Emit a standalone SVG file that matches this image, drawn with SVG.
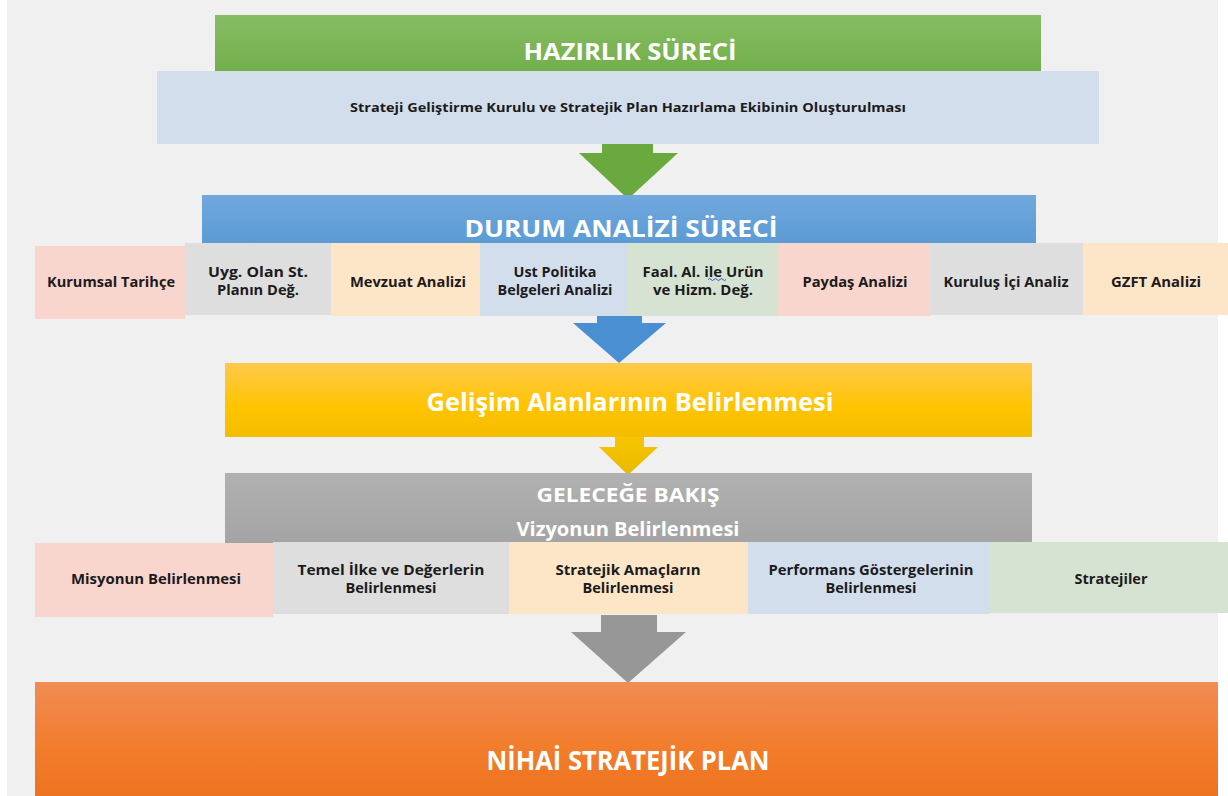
<svg xmlns="http://www.w3.org/2000/svg" width="1228" height="796" viewBox="0 0 1228 796">
<defs>
<style>
.hdr{font-family:'Open Sans','Noto Sans','Liberation Sans',sans-serif;font-weight:bold;fill:#ffffff;text-anchor:middle}
.lbl{font-family:'Open Sans','Noto Sans','Liberation Sans',sans-serif;font-weight:bold;fill:#1b1b1b;text-anchor:middle;font-size:13.5px}
.pink{fill:#f8d5cd}.grey{fill:#dedede}.peach{fill:#fde6c8}.lblue{fill:#d3deed}.lgreen{fill:#d6e3d3}
</style>
<linearGradient id="gGreen" x1="0" y1="0" x2="0" y2="1"><stop offset="0" stop-color="#86bd63"/><stop offset="1" stop-color="#73af4c"/></linearGradient>
<linearGradient id="gBlue" x1="0" y1="0" x2="0" y2="1"><stop offset="0" stop-color="#71a8dd"/><stop offset="1" stop-color="#5b9bd5"/></linearGradient>
<linearGradient id="gYellow" x1="0" y1="0" x2="0" y2="1"><stop offset="0" stop-color="#ffc94c"/><stop offset="0.6" stop-color="#ffc400"/><stop offset="1" stop-color="#f3bd00"/></linearGradient>
<linearGradient id="gGrey" x1="0" y1="0" x2="0" y2="1"><stop offset="0" stop-color="#b1b1b1"/><stop offset="1" stop-color="#a4a4a4"/></linearGradient>
<linearGradient id="gOrange" x1="0" y1="0" x2="0" y2="1"><stop offset="0" stop-color="#f08c55"/><stop offset="0.6" stop-color="#f27c2a"/><stop offset="1" stop-color="#ee7320"/></linearGradient>
<linearGradient id="gArrowY" x1="0" y1="0" x2="0" y2="1"><stop offset="0" stop-color="#f7c500"/><stop offset="1" stop-color="#e9b900"/></linearGradient>
</defs>
<rect x="0" y="0" width="1228" height="796" fill="#ffffff"/>
<rect x="7" y="0" width="1211" height="796" fill="#f0f0f0"/>

<g id="connectors">
<path d="M602,144 H653 V153 H678 L628,199 L579,153 H602 Z" fill="#6aa93e"/>
<path d="M597,316 H642 V323 H666 L619,363 L573,323 H597 Z" fill="#4a8fd2"/>
<path d="M615,437 H644 V447 H658 L628,475 L599,447 H615 Z" fill="url(#gArrowY)"/>
<path d="M601,615 H657 V632 H686 L628,683 L571,632 H601 Z" fill="#979797"/>
</g>

<g id="hazirlik">
<rect x="215" y="15" width="826" height="56" fill="url(#gGreen)"/>
<text class="hdr" x="630" y="60" font-size="24" textLength="213" lengthAdjust="spacingAndGlyphs">HAZIRLIK SÜRECİ</text>
</g>
<g id="ekip">
<rect x="157" y="71" width="942" height="73" class="lblue"/>
<text class="lbl" x="628" y="112" font-size="12.5" style="font-size:12.5px" textLength="556" lengthAdjust="spacingAndGlyphs">Strateji Geliştirme Kurulu ve Stratejik Plan Hazırlama Ekibinin Oluşturulması</text>
</g>

<g id="durum">
<rect x="202" y="195" width="834" height="48" fill="url(#gBlue)"/>
<text class="hdr" x="621" y="237" font-size="23" textLength="313" lengthAdjust="spacingAndGlyphs">DURUM ANALİZİ SÜRECİ</text>
</g>

<g id="kurumsal">
<rect x="35" y="246" width="150" height="73" class="pink"/>
<text class="lbl" x="111" y="287" textLength="128" lengthAdjust="spacingAndGlyphs">Kurumsal Tarihçe</text>
</g>
<g id="uyg">
<rect x="185" y="243" width="146" height="72" class="grey"/>
<text class="lbl" x="258" y="277" textLength="100" lengthAdjust="spacingAndGlyphs">Uyg. Olan St.</text>
<text class="lbl" x="258" y="295" textLength="82" lengthAdjust="spacingAndGlyphs">Planın Değ.</text>
</g>
<g id="mevzuat">
<rect x="331" y="243" width="149" height="73" class="peach"/>
<text class="lbl" x="408" y="287" textLength="116" lengthAdjust="spacingAndGlyphs">Mevzuat Analizi</text>
</g>
<g id="ust">
<rect x="480" y="243" width="148" height="73" class="lblue"/>
<text class="lbl" x="555" y="277" textLength="83" lengthAdjust="spacingAndGlyphs">Ust Politika</text>
<text class="lbl" x="555" y="295" textLength="115" lengthAdjust="spacingAndGlyphs">Belgeleri Analizi</text>
</g>
<g id="faal">
<rect x="628" y="243" width="150" height="73" class="lgreen"/>
<text class="lbl" x="703" y="277" textLength="121" lengthAdjust="spacingAndGlyphs">Faal. Al. ile Urün</text>
<text class="lbl" x="703" y="295" textLength="100" lengthAdjust="spacingAndGlyphs">ve Hizm. Değ.</text>
<path d="M708,279.5 q1.5,-2 3,0 t3,0 t3,0 t3,0 t3,0 t3,0" fill="none" stroke="#3b50d8" stroke-width="1"/>
</g>
<g id="paydas">
<rect x="778" y="243" width="152" height="73" class="pink"/>
<text class="lbl" x="855" y="287" textLength="105" lengthAdjust="spacingAndGlyphs">Paydaş Analizi</text>
</g>
<g id="kurulus">
<rect x="930" y="243" width="153" height="72" class="grey"/>
<text class="lbl" x="1006" y="287" textLength="125" lengthAdjust="spacingAndGlyphs">Kuruluş İçi Analiz</text>
</g>
<g id="gzft">
<rect x="1083" y="243" width="145" height="72" class="peach"/>
<text class="lbl" x="1156" y="287" textLength="90" lengthAdjust="spacingAndGlyphs">GZFT Analizi</text>
</g>

<g id="gelisim">
<rect x="225" y="363" width="807" height="74" fill="url(#gYellow)"/>
<text class="hdr" x="630" y="411" font-size="25" textLength="407" lengthAdjust="spacingAndGlyphs">Gelişim Alanlarının Belirlenmesi</text>
</g>

<g id="gelecege">
<rect x="225" y="473" width="807" height="70" fill="url(#gGrey)"/>
<text class="hdr" x="628" y="502" font-size="19" textLength="183" lengthAdjust="spacingAndGlyphs">GELECEĞE  BAKIŞ</text>
<text class="hdr" x="628" y="536" font-size="19" textLength="223" lengthAdjust="spacingAndGlyphs">Vizyonun Belirlenmesi</text>
</g>

<g id="misyon">
<rect x="35" y="543" width="238" height="74" class="pink"/>
<text class="lbl" x="156" y="584" textLength="170" lengthAdjust="spacingAndGlyphs">Misyonun Belirlenmesi</text>
</g>
<g id="temel">
<rect x="273" y="542" width="236" height="72" class="grey"/>
<text class="lbl" x="391" y="575" textLength="187" lengthAdjust="spacingAndGlyphs">Temel İlke ve Değerlerin</text>
<text class="lbl" x="391" y="593" textLength="91" lengthAdjust="spacingAndGlyphs">Belirlenmesi</text>
</g>
<g id="amaclar">
<rect x="509" y="542" width="239" height="72" class="peach"/>
<text class="lbl" x="628" y="575" textLength="145" lengthAdjust="spacingAndGlyphs">Stratejik Amaçların</text>
<text class="lbl" x="628" y="593" textLength="91" lengthAdjust="spacingAndGlyphs">Belirlenmesi</text>
</g>
<g id="performans">
<rect x="748" y="542" width="242" height="72" class="lblue"/>
<text class="lbl" x="871" y="575" textLength="205" lengthAdjust="spacingAndGlyphs">Performans Göstergelerinin</text>
<text class="lbl" x="871" y="593" textLength="91" lengthAdjust="spacingAndGlyphs">Belirlenmesi</text>
</g>
<g id="stratejiler">
<rect x="990" y="542" width="238" height="71" class="lgreen"/>
<text class="lbl" x="1111" y="584" textLength="73" lengthAdjust="spacingAndGlyphs">Stratejiler</text>
</g>

<g id="nihai">
<rect x="35" y="682" width="1183" height="114" fill="url(#gOrange)"/>
<text class="hdr" x="628" y="770" font-size="26" textLength="283" lengthAdjust="spacingAndGlyphs">NİHAİ STRATEJİK PLAN</text>
</g>
</svg>
